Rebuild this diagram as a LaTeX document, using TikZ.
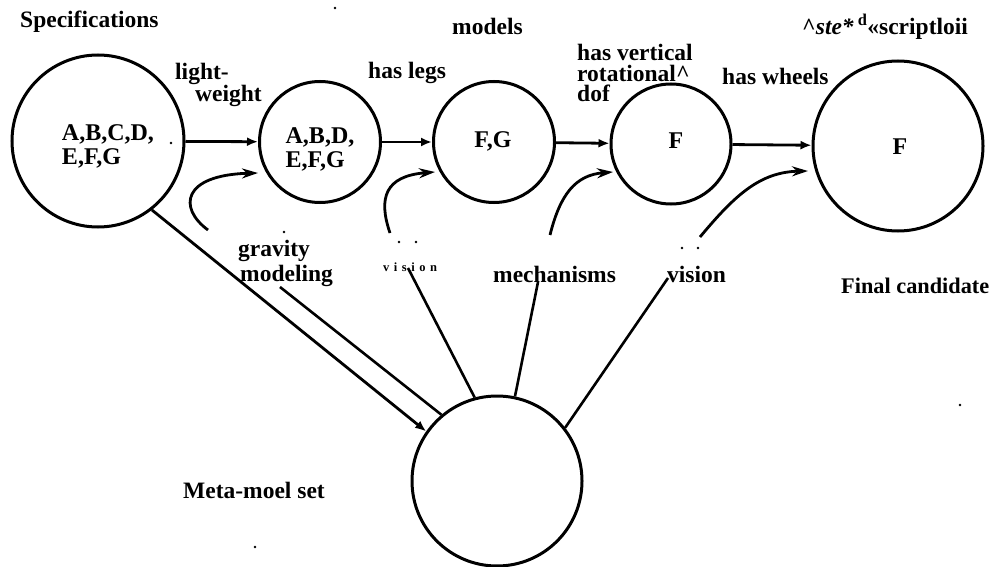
\documentclass[tikz,border=0pt]{standalone}
\usepackage{fontspec}
\setmainfont{Liberation Serif}
\usetikzlibrary{arrows.meta}
\begin{document}
\begin{tikzpicture}[x=1pt,y=-1pt,
  set/.style={draw,circle,line width=3pt,inner sep=0pt},
  lbl/.style={anchor=base west,inner sep=0pt,font=\fontsize{23.5}{20}\selectfont\bfseries},
  inlbl/.style={inner sep=0pt,align=left,font=\fontsize{24}{24}\selectfont\bfseries},
  flow/.style={line width=2.8pt,-{Latex[length=11pt,width=9pt]}},
  feed/.style={line width=2.8pt,-{Stealth[length=16pt,width=10pt]}},
  link/.style={line width=2.6pt},
  speck/.style={fill=black,circle,inner sep=0pt,minimum size=2.6pt}]
\useasboundingbox (0,0) rectangle (993,567);

% sets
\node[set,minimum size=172pt] (c1) at (98,141) {};
\node[set,minimum size=121pt] (c2) at (320,142) {};
\node[set,minimum size=121pt] (c3) at (494,142) {};
\node[set,minimum size=120pt] (c4) at (671,144) {};
\node[set,minimum size=170pt] (c5) at (898,146) {};
\node[set,minimum size=170pt] (c6) at (497,481) {};

% set contents
\node[inlbl] (t1) at (108,146) {A,B,C,D,\\E,F,G};
\node[inlbl] (t2) at (320,149) {A,B,D,\\E,F,G};
\node[inlbl] (t3) at (493,141) {F,G};
\node[inlbl] (t4) at (676,141) {F};
\node[inlbl] (t5) at (900,147) {F};

% labels
\node[lbl] (spec) at (20,28) {Specifications};
\node[lbl] (models) at (452,35) {models};
\node[lbl] (desc) at (802,35) {\textasciicircum\textit{ste*}\,\textsuperscript{d}«scriptloii};
\node[lbl] (lw1) at (175,80) {light-};
\node[lbl] (lw2) at (195,102) {weight};
\node[lbl] (legs) at (368,79) {has legs};
\node[lbl] (hv1) at (577,61) {has vertical};
\node[lbl] (hv2) at (577,82) {rotational\textasciicircum};
\node[lbl] (hv3) at (577,102) {dof};
\node[lbl] (wheels) at (722,85) {has wheels};
\node[lbl] (grav1) at (238,256) {gravity};
\node[lbl] (grav2) at (240,281) {modeling};
\node[lbl,font=\fontsize{12.5}{12}\selectfont\bfseries] (vis1) at (383,271) {{\spaceskip=4.5pt v i s i o n}};
\node[lbl] (mech) at (493,282) {mechanisms};
\node[lbl] (vis2) at (667,282) {vision};
\node[lbl,font=\fontsize{22.3}{20}\selectfont\bfseries] (final) at (841,293) {Final candidate};
\node[lbl] (meta) at (183,498) {Meta-moel set};

% specks
\node[speck] (d1) at (335,8) {};
\node[speck] (d2) at (171,143) {};
\node[speck] (d3) at (284,232) {};
\node[speck] (d4) at (399,242) {};
\node[speck] (d5) at (416,242) {};
\node[speck] (d6) at (682,248) {};
\node[speck] (d7) at (698,248) {};
\node[speck] (d8) at (255,547) {};
\node[speck] (d9) at (960,405) {};

% main flow
\draw[flow] (c1) -- (c2);
\draw[flow] (c2) -- (c3);
\draw[flow] (c3) -- (c4);
\draw[flow] (c4) -- (c5);

% feeding curves
\coordinate (f1s) at (208,230);
\coordinate (f1e) at (258,173);
\coordinate (f2s) at (390,233);
\coordinate (f2e) at (435,172);
\coordinate (f3s) at (550,235);
\coordinate (f3e) at (613,172);
\coordinate (f4s) at (700,237);
\coordinate (f4e) at (808,171);
\draw[feed] (f1s) .. controls (178,208) and (182,175) .. (f1e);
\draw[feed] (f2s) .. controls (378,198) and (385,176) .. (f2e);
\draw[feed] (f3s) .. controls (560,195) and (575,175) .. (f3e);
\draw[feed] (f4s) .. controls (735,195) and (760,172) .. (f4e);

% links to meta-model set
\coordinate (lb) at (280,287);
\coordinate (lc) at (408,268);
\coordinate (ld) at (538,282);
\coordinate (le) at (668,278);
\draw[flow] (c1.-52) -- (c6.145);
\draw[link] (lb) -- (c6.130);
\draw[link] (lc) -- (c6.105);
\draw[link] (ld) -- (c6.78);
\draw[link] (le) -- (c6.38);
\end{tikzpicture}
\end{document}
